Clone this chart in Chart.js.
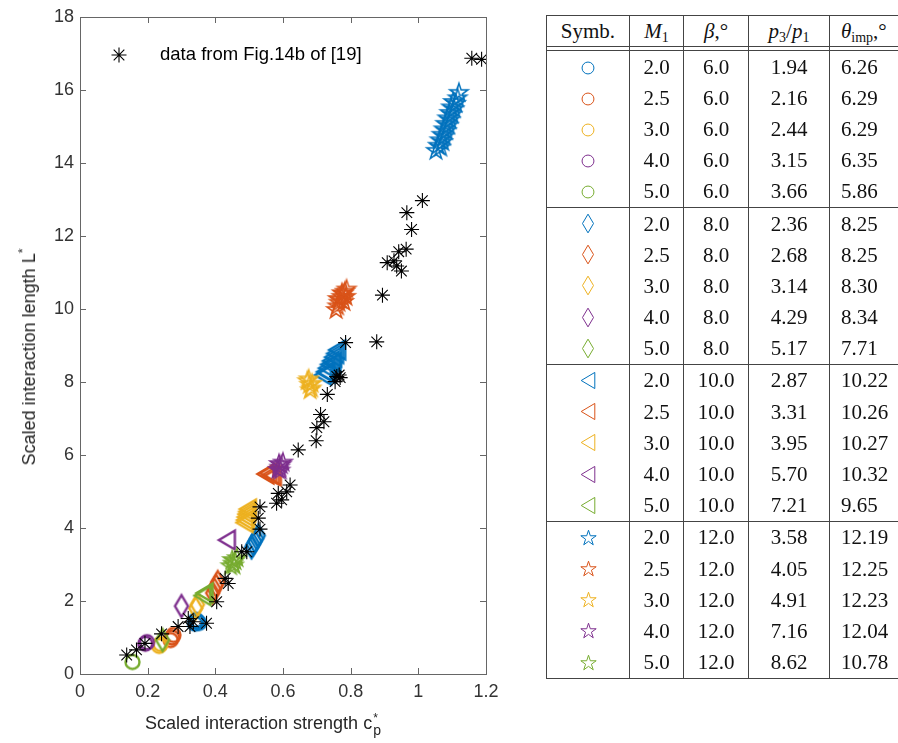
<!DOCTYPE html>
<html>
<head>
<meta charset="utf-8">
<script src="https://cdn.jsdelivr.net/npm/chart.js@4.4.0/dist/chart.umd.min.js"></script>
<style>
  body { margin: 0; width: 898px; height: 743px; overflow: hidden; position: relative; background: #fff; }
  #plot { position: absolute; left: 0; top: 0; width: 540px; height: 743px; }
  .axtitle { position: absolute; font-family: "Liberation Sans", Arial, sans-serif; font-size: 18px; line-height: 20px; color: #262626; white-space: nowrap; }
  .axtitle sup { font-size: 12px; vertical-align: 8px; line-height: 0; }
  #ytitle { left: 29px; top: 357px; transform: translate(-50%, -50%) rotate(-90deg); }
  #xtitle { left: 145px; top: 713px; }
  .stack { display: inline-block; position: relative; width: 10px; height: 10px; }
  .stack .s1 { position: absolute; left: 1px; top: -7px; font-size: 12px; line-height: 12px; }
  .stack .s2 { position: absolute; left: 1px; top: 4px; font-size: 14px; line-height: 14px; }
  #tbl { position: absolute; left: 546px; top: 15px; width: 380px; border-collapse: collapse; table-layout: fixed;
         font-family: "Liberation Serif", "Times New Roman", serif; font-size: 21px; color: #111; }
  #tbl td { border-left: 1px solid #444; border-right: 1px solid #444; padding: 0; text-align: center; height: 31.2px; line-height: 20px; white-space: nowrap; overflow: visible; }
  #tbl tr.head td { border-top: 1px solid #444; border-bottom: 1px solid #444; height: 30px; }
  #tbl tr.gap td { height: 3px; border-bottom: 1px solid #444; }
  #tbl tr.last td { border-bottom: 1px solid #444; }
  #tbl td.theta { text-align: left; padding-left: 11px; }
  #tbl sub { font-size: 14px; vertical-align: -4px; line-height: 0; }
  #tbl canvas { vertical-align: middle; }
</style>
</head>
<body>
<div id="plot"><canvas id="chart" width="540" height="743"></canvas></div>
<div class="axtitle" id="ytitle">Scaled interaction length L<sup>*</sup></div>
<div class="axtitle" id="xtitle">Scaled interaction strength c<span class="stack"><span class="s1">*</span><span class="s2">p</span></span></div>
<table id="tbl"></table>

<script>
// line colours for M1 = 2.0, 2.5, 3.0, 4.0, 5.0
const seriesColors = ['#0072BD', '#D95319', '#EDB120', '#7E2F8E', '#77AC30'];
const machLabels = ['2.0', '2.5', '3.0', '4.0', '5.0'];
// one marker shape per wedge angle beta
const betaLabels = ['6.0', '8.0', '10.0', '12.0'];
const markerShapes = ['circle', 'diamond', 'triangleLeft', 'pentagram'];
const pressureRatio = [1.94, 2.16, 2.44, 3.15, 3.66, 2.36, 2.68, 3.14, 4.29, 5.17,
                       2.87, 3.31, 3.95, 5.70, 7.21, 3.58, 4.05, 4.91, 7.16, 8.62];
const thetaImp = [6.26, 6.29, 6.29, 6.35, 5.86, 8.25, 8.25, 8.30, 8.34, 7.71,
                  10.22, 10.26, 10.27, 10.32, 9.65, 12.19, 12.25, 12.23, 12.04, 10.78];

const xTickValues = [0, 0.2, 0.4, 0.6, 0.8, 1, 1.2];
const xTickLabels = ['0', '0.2', '0.4', '0.6', '0.8', '1', '1.2'];
const yTickValues = [0, 2, 4, 6, 8, 10, 12, 14, 16, 18];

const legendLabel = 'data from Fig.14b of [19]';

// reference data (c_p*, L*)
const refPoints = [
  [1.158, 16.87], [1.187, 16.84],
  [1.012, 12.97], [0.966, 12.64], [0.980, 12.18], [0.964, 11.64], [0.942, 11.57], [0.928, 11.32],
  [0.908, 11.27], [0.936, 11.18], [0.950, 11.04], [0.894, 10.38], [0.877, 9.10], [0.785, 9.08],
  [0.766, 8.19], [0.759, 8.15], [0.769, 8.12], [0.754, 8.01], [0.731, 7.66], [0.711, 7.11],
  [0.721, 6.91], [0.700, 6.75], [0.698, 6.39], [0.645, 6.14],
  [0.586, 4.95], [0.621, 5.18], [0.611, 4.99], [0.581, 4.68], [0.596, 4.77], [0.532, 4.58],
  [0.527, 4.27], [0.532, 3.97], [0.478, 3.35], [0.493, 3.35], [0.429, 2.62], [0.438, 2.48],
  [0.404, 1.98], [0.374, 1.39], [0.335, 1.43], [0.320, 1.52], [0.325, 1.30], [0.290, 1.30],
  [0.241, 1.10], [0.192, 0.84], [0.167, 0.66], [0.138, 0.52]
];

// computed cases, beta = 6 (circles), index by M1
const circlePoints = [
  [[0.340, 1.38], [0.346, 1.44], [0.352, 1.40], [0.343, 1.48]],
  [[0.268, 0.93], [0.272, 1.00], [0.276, 1.07]],
  [[0.234, 0.77], [0.238, 0.82]],
  [[0.193, 0.83], [0.198, 0.87]],
  [[0.155, 0.33]]
];
// beta = 8 (diamonds)
const diamondPoints = [
  [[0.507, 3.47], [0.512, 3.55], [0.517, 3.63], [0.522, 3.71], [0.527, 3.79]],
  [[0.392, 2.22], [0.397, 2.32], [0.402, 2.42], [0.407, 2.52]],
  [[0.342, 1.80], [0.347, 1.90]],
  [[0.300, 1.86]],
  [[0.244, 0.93]]
];
// beta = 10 (left triangles)
const trianglePoints = [
  [[0.718, 8.19], [0.724, 8.28], [0.730, 8.38], [0.736, 8.48], [0.742, 8.58], [0.748, 8.68],
   [0.754, 8.78], [0.760, 8.88], [0.728, 8.24], [0.746, 8.52]],
  [[0.548, 5.48], [0.556, 5.50], [0.564, 5.46], [0.570, 5.43]],
  [[0.486, 4.15], [0.488, 4.22], [0.490, 4.30], [0.492, 4.38], [0.494, 4.45], [0.496, 4.52]],
  [[0.434, 3.67]],
  [[0.362, 2.15], [0.368, 2.22]]
];
// beta = 12 (pentagrams)
const starPoints = [
  [[1.052, 14.36], [1.058, 14.50], [1.063, 14.65], [1.069, 14.80], [1.075, 14.95], [1.080, 15.10],
   [1.086, 15.25], [1.092, 15.40], [1.097, 15.55], [1.103, 15.70],
   [1.066, 14.45], [1.072, 14.60], [1.077, 14.75], [1.083, 14.90], [1.089, 15.05], [1.094, 15.20],
   [1.100, 15.35], [1.106, 15.50], [1.111, 15.65], [1.116, 15.80], [1.120, 15.95]],
  [[0.757, 10.00], [0.761, 10.10], [0.765, 10.20], [0.769, 10.28], [0.773, 10.36], [0.778, 10.44],
   [0.783, 10.50], [0.788, 10.56], [0.762, 10.30], [0.774, 10.46], [0.780, 10.22], [0.786, 10.36]],
  [[0.672, 8.05], [0.678, 7.95], [0.684, 7.85], [0.676, 8.10], [0.686, 7.98], [0.680, 7.80]],
  [[0.585, 5.62], [0.590, 5.68], [0.595, 5.75], [0.600, 5.82], [0.592, 5.60], [0.588, 5.78]],
  [[0.445, 2.98], [0.452, 3.05], [0.458, 3.12], [0.464, 3.20], [0.455, 3.00], [0.450, 3.15]]
];
const pointsByShape = [circlePoints, diamondPoints, trianglePoints, starPoints];

// outline marker drawn into a small canvas, used as a pointStyle
function makeMarker(shape, color, k, lw) {
  const ext = { circle: [7, 7], diamond: [6.5, 11], triangleLeft: [8, 9.5], pentagram: [9.5, 9.5] }[shape];
  const a = ext[0] * k, b = ext[1] * k;
  const pad = 3 * lw + 1;
  const c = document.createElement('canvas');
  c.width = Math.ceil(2 * (a + pad));
  c.height = Math.ceil(2 * (b + pad));
  const g = c.getContext('2d');
  const cx = c.width / 2, cy = c.height / 2;
  g.strokeStyle = color;
  g.lineWidth = lw;
  g.beginPath();
  if (shape === 'circle') {
    g.arc(cx, cy, a, 0, Math.PI * 2);
  } else if (shape === 'diamond') {
    g.moveTo(cx, cy - b); g.lineTo(cx + a, cy); g.lineTo(cx, cy + b); g.lineTo(cx - a, cy); g.closePath();
  } else if (shape === 'triangleLeft') {
    g.moveTo(cx - a, cy); g.lineTo(cx + a, cy - b); g.lineTo(cx + a, cy + b); g.closePath();
  } else {
    const r = a * 0.382;
    for (let i = 0; i < 10; i++) {
      const ang = -Math.PI / 2 + i * Math.PI / 5;
      const rr = i % 2 ? r : a;
      const px = cx + rr * Math.cos(ang), py = cy + 0.9 * k + rr * Math.sin(ang);
      if (i) g.lineTo(px, py); else g.moveTo(px, py);
    }
    g.closePath();
  }
  g.stroke();
  return c;
}

const toXY = pts => pts.map(p => ({ x: p[0], y: p[1] }));

const datasets = [{
  label: legendLabel,
  data: toXY(refPoints),
  pointStyle: 'star',
  pointRadius: 7.5,
  pointBorderWidth: 1.1,
  borderColor: '#000',
  backgroundColor: '#000',
  order: 0
}];
markerShapes.forEach((shape, s) => {
  seriesColors.forEach((color, m) => {
    const idx = s * 5 + m;
    datasets.push({
      label: 'M1=' + machLabels[m] + ', beta=' + betaLabels[s],
      data: toXY(pointsByShape[s][m]),
      pointStyle: makeMarker(shape, color, 1, shape === 'pentagram' ? 1.5 : 2.4),
      pointRadius: 8,
      borderColor: color,
      backgroundColor: 'transparent',
      order: 100 - idx
    });
  });
});

// box around the axes with inward ticks on all four sides
const axesBox = {
  id: 'axesBox',
  beforeDatasetsDraw(chart) {
    const { ctx, chartArea: a, scales } = chart;
    const t = 6;
    ctx.save();
    ctx.strokeStyle = '#666';
    ctx.lineWidth = 1;
    ctx.strokeRect(a.left + 0.5, a.top + 0.5, a.right - a.left, a.bottom - a.top);
    ctx.beginPath();
    xTickValues.forEach(v => {
      const px = Math.round(scales.x.getPixelForValue(v)) + 0.5;
      ctx.moveTo(px, a.bottom); ctx.lineTo(px, a.bottom - t);
      ctx.moveTo(px, a.top); ctx.lineTo(px, a.top + t);
    });
    yTickValues.forEach(v => {
      const py = Math.round(scales.y.getPixelForValue(v)) + 0.5;
      ctx.moveTo(a.left, py); ctx.lineTo(a.left + t, py);
      ctx.moveTo(a.right, py); ctx.lineTo(a.right - t, py);
    });
    ctx.stroke();
    ctx.restore();
  }
};

// legend entry inside the axes, no frame
const refLegend = {
  id: 'refLegend',
  afterDatasetsDraw(chart) {
    const { ctx, chartArea: a } = chart;
    const x = a.left + 39, y = a.top + 38;
    ctx.save();
    ctx.strokeStyle = '#000';
    ctx.lineWidth = 1.1;
    ctx.beginPath();
    for (let i = 0; i < 4; i++) {
      const ang = i * Math.PI / 4, r = 7.5;
      ctx.moveTo(x - r * Math.cos(ang), y - r * Math.sin(ang));
      ctx.lineTo(x + r * Math.cos(ang), y + r * Math.sin(ang));
    }
    ctx.stroke();
    ctx.fillStyle = '#000';
    ctx.font = '18.5px "Liberation Sans", Arial, sans-serif';
    ctx.textBaseline = 'middle';
    ctx.fillText(legendLabel, a.left + 80, y);
    ctx.restore();
  }
};

Chart.defaults.font.family = '"Liberation Sans", Arial, sans-serif';
Chart.defaults.font.size = 18;
Chart.defaults.color = '#333';

new Chart(document.getElementById('chart').getContext('2d'), {
  type: 'scatter',
  data: { datasets },
  options: {
    responsive: false,
    animation: false,
    layout: { padding: { top: 17, right: 54, left: 0, bottom: 0 } },
    plugins: { legend: { display: false }, tooltip: { enabled: false } },
    scales: {
      x: {
        type: 'linear', min: 0, max: 1.2,
        grid: { display: false, drawTicks: false },
        border: { display: false },
        afterBuildTicks: scale => { scale.ticks = xTickValues.map(v => ({ value: v })); },
        afterFit: scale => { scale.height = 69; },
        ticks: { padding: 7, maxRotation: 0, callback: (v, i) => xTickLabels[i] }
      },
      y: {
        type: 'linear', min: 0, max: 18,
        grid: { display: false, drawTicks: false },
        border: { display: false },
        afterBuildTicks: scale => { scale.ticks = yTickValues.map(v => ({ value: v })); },
        afterFit: scale => { scale.width = 80; },
        ticks: { padding: 6, callback: v => String(v) }
      }
    }
  },
  plugins: [axesBox, refLegend]
});

// parameter table
const tbl = document.getElementById('tbl');
const colWidths = [83, 54, 65, 81, 97];
const cg = document.createElement('colgroup');
colWidths.forEach(w => { const c = document.createElement('col'); c.style.width = w + 'px'; cg.appendChild(c); });
tbl.appendChild(cg);

const head = tbl.insertRow();
head.className = 'head';
['Symb.', '<i>M</i><sub>1</sub>', '<i>β</i>,°', '<i>p</i><sub>3</sub>/<i>p</i><sub>1</sub>', '<i>θ</i><sub>imp</sub>,°']
  .forEach((h, i) => { const c = head.insertCell(); c.innerHTML = h; if (i === 4) c.className = 'theta'; });
const gap = tbl.insertRow();
gap.className = 'gap';
colWidths.forEach(() => gap.insertCell());

markerShapes.forEach((shape, s) => {
  seriesColors.forEach((color, m) => {
    const idx = s * 5 + m;
    const row = tbl.insertRow();
    if (m === 4) row.className = 'last';
    row.insertCell().appendChild(makeMarker(shape, color, 0.85, 1));
    row.insertCell().textContent = machLabels[m];
    row.insertCell().textContent = betaLabels[s];
    row.insertCell().textContent = pressureRatio[idx].toFixed(2);
    const th = row.insertCell();
    th.className = 'theta';
    th.textContent = thetaImp[idx].toFixed(2);
  });
});
</script>
</body>
</html>
